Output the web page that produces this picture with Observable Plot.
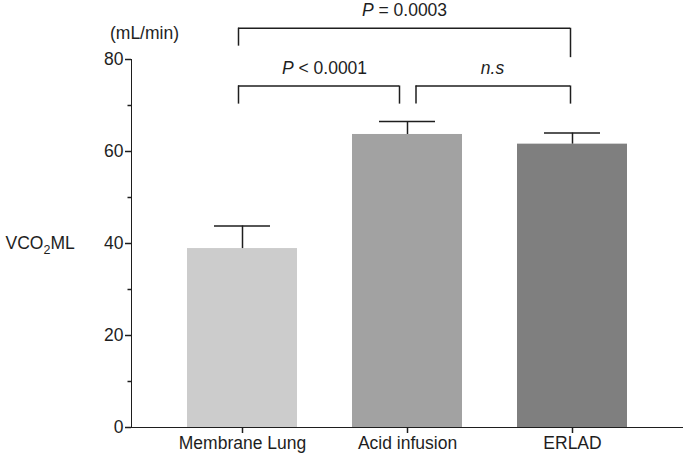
<!DOCTYPE html>
<html>
<head>
<meta charset="utf-8">
<script src="https://cdn.jsdelivr.net/npm/d3@7"></script>
<script src="https://cdn.jsdelivr.net/npm/@observablehq/plot@0.6"></script>
<style>
  html, body { margin: 0; padding: 0; background: #fff; }
  #chart svg { display: block; }
  [aria-label^="x-axis"] line, [aria-label^="x-axis"] path,
  [aria-label^="y-axis"] line, [aria-label^="y-axis"] path { stroke-width: 1.5px; }
</style>
</head>
<body>
<div id="chart"></div>
<script>
// ---- data ----
const categories = ["Membrane Lung", "Acid infusion", "ERLAD"];
const means = [38.9, 63.7, 61.6];
const sems = [4.9, 2.8, 2.4];
const yTicks = [0, 20, 40, 60, 80];
const yMinorTicks = [10, 30, 50, 70];
const unitLabel = "(mL/min)";
const yLabel = "VCO2ML";
const comparisons = [
  { from: "Membrane Lung", to: "ERLAD", label: "P = 0.0003" },
  { from: "Membrane Lung", to: "Acid infusion", label: "P < 0.0001" },
  { from: "Acid infusion", to: "ERLAD", label: "n.s" }
];

const rows = categories.map((c, i) => ({ category: c, mean: means[i], sem: sems[i], top: means[i] + sems[i] }));
const [cTop, cLeft, cRight] = comparisons;

const ink = "#1e1e1e";
const lw = 1.5;

const chart = Plot.plot({
  width: 685,
  height: 456,
  marginLeft: 131,
  marginRight: 3,
  marginTop: 59,
  marginBottom: 29,
  style: { fontFamily: "'Liberation Sans', Arial, sans-serif", fontSize: "17.5px", color: ink, background: "#fff" },
  x: { domain: categories, padding: 0.335, label: null, tickSize: 6, tickPadding: 3, line: true },
  y: { domain: [0, 80], ticks: yTicks, label: null, tickSize: 6, tickPadding: 2, line: true },
  color: { domain: categories, range: ["#cccccc", "#a2a2a2", "#7f7f7f"] },
  marks: [
    Plot.barY(rows, { x: "category", y: "mean", fill: "category" }),
    // error bars
    Plot.ruleX(rows, { x: "category", y1: "mean", y2: "top", stroke: ink, strokeWidth: lw }),
    Plot.tickY(rows, { x: "category", y: "top", stroke: ink, strokeWidth: lw, insetLeft: 27, insetRight: 27 }),
    // minor y ticks
    Plot.ruleY(yMinorTicks, { stroke: ink, strokeWidth: lw, insetLeft: -3.5, insetRight: 551 }),
    // top bracket
    Plot.ruleY([86.8], { x1: [cTop.from], x2: [cTop.to], stroke: ink, strokeWidth: lw, insetLeft: 51, insetRight: 57 }),
    Plot.ruleX([cTop.from], { y1: 82.9, y2: 86.8, dx: -4, stroke: ink, strokeWidth: lw }),
    Plot.ruleX([cTop.to], { y1: 80.4, y2: 86.8, dx: -2, stroke: ink, strokeWidth: lw }),
    Plot.text([cTop.label], { x: ["Acid infusion"], y: 90.7, dx: -3, text: d => d }),
    // left lower bracket
    Plot.ruleY([74.25], { x1: [cLeft.from], x2: [cLeft.to], stroke: ink, strokeWidth: lw, insetLeft: 51, insetRight: 63 }),
    Plot.ruleX([cLeft.from], { y1: 70.3, y2: 74.25, dx: -4, stroke: ink, strokeWidth: lw }),
    Plot.ruleX([cLeft.to], { y1: 70.3, y2: 74.25, dx: -8, stroke: ink, strokeWidth: lw }),
    Plot.text([cLeft.label], { x: [cLeft.from], y: 78.1, dx: 82, text: d => d }),
    // right lower bracket
    Plot.ruleY([74.25], { x1: [cRight.from], x2: [cRight.to], stroke: ink, strokeWidth: lw, insetLeft: 63.5, insetRight: 57 }),
    Plot.ruleX([cRight.from], { y1: 70.3, y2: 74.25, dx: 8.5, stroke: ink, strokeWidth: lw }),
    Plot.ruleX([cRight.to], { y1: 70.3, y2: 74.25, dx: -2, stroke: ink, strokeWidth: lw }),
    Plot.text([cRight.label], { x: [cRight.to], y: 78.1, dx: -80, text: d => d, fontStyle: "italic" }),
    // axis titles
    Plot.text([unitLabel], { frameAnchor: "top-left", dx: 13, dy: -33, textAnchor: "middle", text: d => d }),
    Plot.text([yLabel], { frameAnchor: "left", dx: -126, textAnchor: "start", text: d => d })
  ]
});

document.getElementById("chart").appendChild(chart);

// rich text: subscript and italic P
d3.select(chart).selectAll("text").each(function () {
  const t = this.textContent;
  const sel = d3.select(this);
  if (t === yLabel) {
    sel.text(null);
    sel.append("tspan").text("VCO");
    sel.append("tspan").attr("dy", "5px").attr("font-size", "12.5px").text("2");
    sel.append("tspan").attr("dy", "-5px").text("ML");
  } else if (/^P [=<]/.test(t)) {
    sel.text(null);
    sel.append("tspan").attr("font-style", "italic").text("P");
    sel.append("tspan").text(t.slice(1));
  }
});
</script>
</body>
</html>
